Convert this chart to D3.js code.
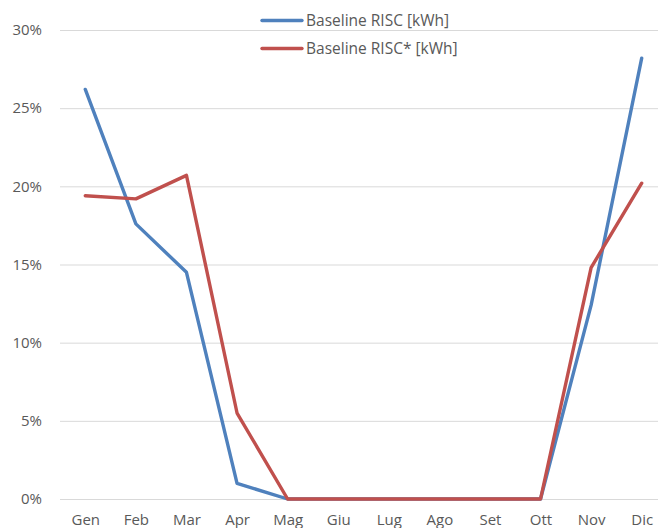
<!DOCTYPE html>
<html lang="it">
<head>
    <meta charset="UTF-8">
    <title>Baseline RISC</title>
    <script src="https://cdn.jsdelivr.net/npm/d3@7/dist/d3.min.js"></script>
    <style>
        body { margin: 0; background: #fff; }
        text { font-family: "Open Sans", "Liberation Sans", sans-serif; fill: #595959; }
    </style>
</head>
<body>
    <svg id="svg" width="658" height="528"></svg>
    <script>
        const months = ['Gen', 'Feb', 'Mar', 'Apr', 'Mag', 'Giu', 'Lug', 'Ago', 'Set', 'Ott', 'Nov', 'Dic']
        const risc = [26.2, 17.6, 14.5, 1.0, 0, 0, 0, 0, 0, 0, 12.4, 28.2]
        const riscStar = [19.4, 19.2, 20.7, 5.5, 0, 0, 0, 0, 0, 0, 14.8, 20.2]
        const yTicks = [0, 5, 10, 15, 20, 25, 30]

        const series = [
            {name: 'Baseline RISC [kWh]', values: risc, color: '#4F81BD'},
            {name: 'Baseline RISC* [kWh]', values: riscStar, color: '#C0504D'}
        ]

        const svg = d3.select("#svg")
        const plot = {left: 60, right: 667, top: 30, bottom: 499}

        const xScale = d3.scalePoint()
        .domain(months)
        .range([plot.left, plot.right])
        .padding(0.5)

        const yScale = d3.scaleLinear()
        .domain([0, 30])
        .range([plot.bottom, plot.top])

        // gridlines + y labels
        const yAxis = d3.axisLeft(yScale)
        .tickValues(yTicks)
        .tickSize(-(plot.right - plot.left))
        .tickFormat(d => d + '%')

        svg.append("g").attr("class", "y_axis")
        .attr("transform", `translate(${plot.left}, 0)`)
        .call(yAxis)
        .call(g => g.select(".domain").remove())
        .call(g => g.selectAll("line").attr("stroke", "#d9d9d9").attr("stroke-width", 1))
        .call(g => g.selectAll("text").attr("x", -18).attr("font-size", 15).attr("fill", "#595959"))

        const xAxis = d3.axisBottom(xScale).tickSize(0)
        svg.append("g").attr("class", "x_axis")
        .attr("transform", `translate(0, ${plot.bottom})`)
        .call(xAxis)
        .call(g => g.select(".domain").remove())
        .call(g => g.selectAll("text").attr("y", 15).attr("font-size", 15).attr("fill", "#595959"))

        const line = d3.line()
        .x((d, i) => xScale(months[i]))
        .y(d => yScale(d))

        svg.selectAll(".series").data(series).join("path")
        .attr("class", "series")
        .attr("fill", "none")
        .attr("stroke", d => d.color)
        .attr("stroke-width", 3.4)
        .attr("stroke-linejoin", "round")
        .attr("stroke-linecap", "round")
        .attr("d", d => line(d.values))

        // legend
        const legend = svg.selectAll(".legend").data(series).join("g")
        .attr("class", "legend")
        .attr("transform", (d, i) => `translate(262, ${20.5 + i * 28})`)

        legend.append("line")
        .attr("x1", 0).attr("x2", 40)
        .attr("stroke", d => d.color)
        .attr("stroke-width", 3.4)
        .attr("stroke-linecap", "round")

        legend.append("text")
        .attr("x", 44)
        .attr("dy", "0.35em")
        .attr("font-size", 15.5)
        .text(d => d.name)
    </script>
</body>
</html>
